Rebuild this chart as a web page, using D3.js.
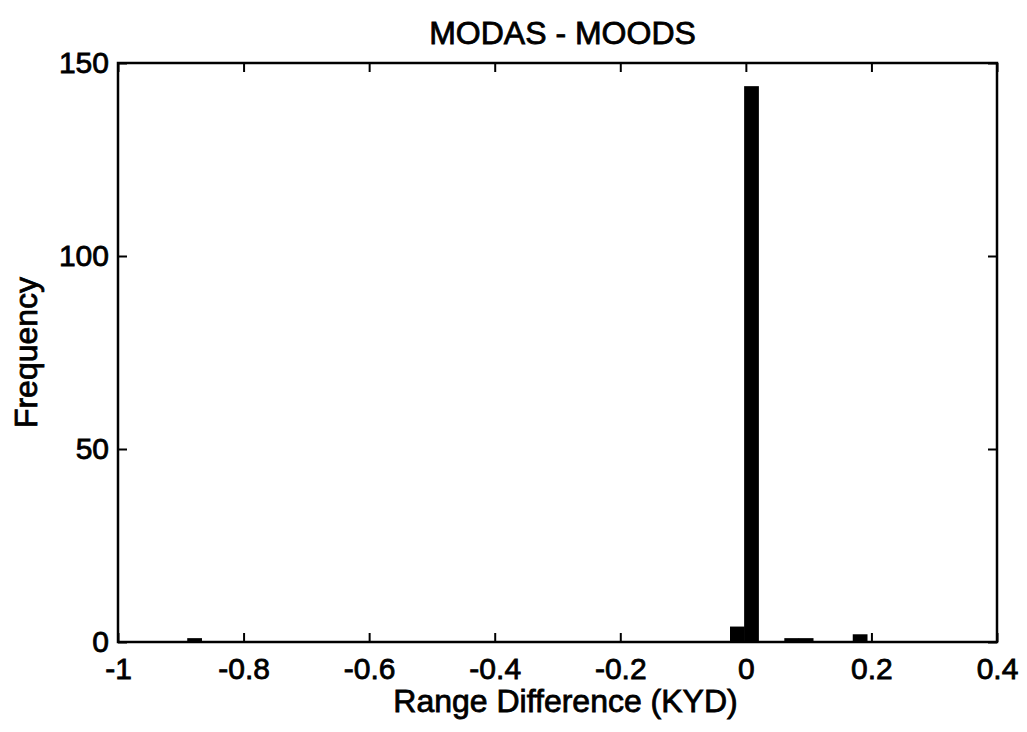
<!DOCTYPE html>
<html><head><meta charset="utf-8">
<script src="https://cdn.jsdelivr.net/npm/d3@7"></script>
<style>
html,body{margin:0;padding:0;background:#fff;}
text{font-family:"Liberation Sans",Arial,Helvetica,sans-serif;fill:#000;stroke:#000;stroke-width:0.8px;}
</style></head>
<body>
<svg id="chart" width="1027" height="732"></svg>
<script>
// Histogram bins (centers in KYD) and counts
const binCenters = [-0.878, -0.0135, 0.009, 0.073, 0.096, 0.182];
const binCounts  = [1, 4, 144, 1, 1, 2];
const binWidth = 0.0235;
const xTicks = [-1, -0.8, -0.6, -0.4, -0.2, 0, 0.2, 0.4];
const yTicks = [0, 50, 100, 150];
const titleText = "MODAS - MOODS";
const xLabel = "Range Difference (KYD)";
const yLabel = "Frequency";

const svg = d3.select("#chart");
const m = {left:118, right:997, top:63, bottom:642};
const x = d3.scaleLinear().domain([-1, 0.4]).range([m.left, m.right]);
const y = d3.scaleLinear().domain([0, 150]).range([m.bottom, m.top]);

// bars
svg.append("g").selectAll("rect").data(binCenters.map((c,i)=>({c, n:binCounts[i]})))
  .enter().append("rect")
  .attr("x", d => x(d.c - binWidth/2))
  .attr("width", d => x(d.c + binWidth/2) - x(d.c - binWidth/2))
  .attr("y", d => y(d.n))
  .attr("height", d => y(0) - y(d.n))
  .attr("fill", "#000");

const fs = 30;
const tl = 9;
const fmt = d => String(d);
// axes
const axB = d3.axisBottom(x).tickValues(xTicks).tickSize(-tl).tickPadding(tl+7).tickFormat(fmt);
const axT = d3.axisTop(x).tickValues(xTicks).tickSize(-tl).tickFormat("");
const axL = d3.axisLeft(y).tickValues(yTicks).tickSize(-tl).tickPadding(tl+0).tickFormat(fmt);
const axR = d3.axisRight(y).tickValues(yTicks).tickSize(-tl).tickFormat("");

function style(g){
  g.select(".domain").remove();
  g.selectAll("line").attr("stroke","#000").attr("stroke-width",2);
  g.selectAll("text").style("font-size", fs+"px").attr("fill","#000");
}
svg.append("g").attr("transform",`translate(0,${m.bottom})`).call(axB).call(style);
svg.append("g").attr("transform",`translate(0,${m.top})`).call(axT).call(style);
svg.append("g").attr("transform",`translate(${m.left},0)`).call(axL).call(style);
svg.append("g").attr("transform",`translate(${m.right},0)`).call(axR).call(style);

// box
svg.append("rect").attr("x",m.left).attr("y",m.top).attr("width",m.right-m.left).attr("height",m.bottom-m.top)
  .attr("fill","none").attr("stroke","#000").attr("stroke-width",2.5);

svg.append("text").attr("x",(m.left+m.right)/2 + 5).attr("y",44).attr("text-anchor","middle")
  .style("font-size","32px").text(titleText);
svg.append("text").attr("x",(m.left+m.right)/2 + 8).attr("y",712).attr("text-anchor","middle")
  .style("font-size","32px").text(xLabel);
svg.append("text").attr("transform",`translate(37,${(m.top+m.bottom)/2}) rotate(-90)`).attr("text-anchor","middle")
  .style("font-size","32px").text(yLabel);
</script>
</body></html>
